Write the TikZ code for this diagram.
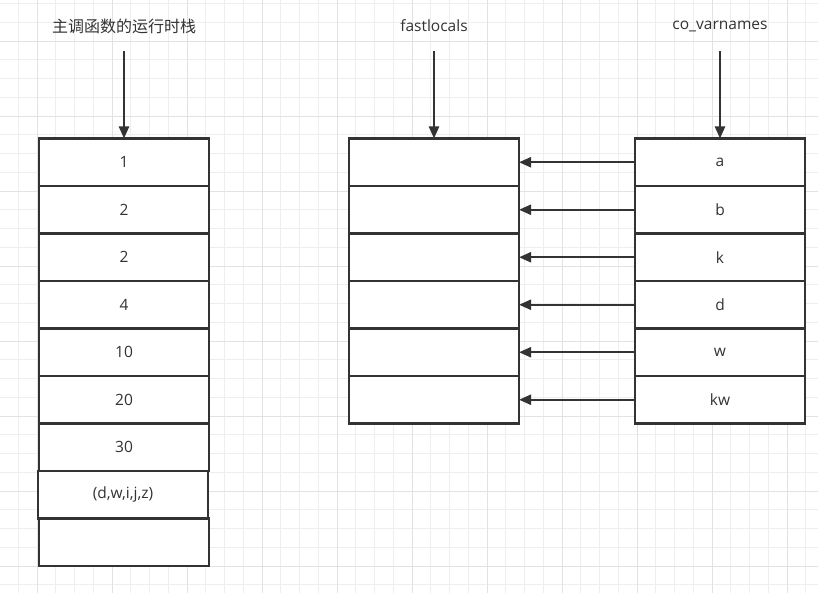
\documentclass[tikz,border=0pt]{standalone}
\usepackage{fontspec}
\setmainfont{Open Sans}
\newfontfamily\cjkfont{Noto Sans CJK SC}
\usetikzlibrary{arrows.meta}
\definecolor{ink}{HTML}{333333}
\definecolor{gridminor}{HTML}{EEEEEE}
\definecolor{gridmajor}{HTML}{E2E2E2}
\begin{document}
\begin{tikzpicture}[x=1pt,y=-1pt,
  cell/.style={draw=ink,line width=2.2pt,fill=white,minimum width=170pt,minimum height=47.5pt,
    inner sep=0pt,outer sep=0pt,anchor=north west,text=ink,font=\fontsize{15.5}{17}\selectfont},
  title/.style={text=ink,font=\fontsize{15.5}{17}\selectfont,inner sep=1pt},
  link/.style={draw=ink,line width=2.2pt,-{Triangle[length=12pt,width=10pt]}}]
\useasboundingbox (0,0) rectangle (818,593);
\fill[white] (0,0) rectangle (818,593);
% background grid
\foreach \i in {0,...,44} {
  \draw[gridminor,line width=0.8pt] ({-0.5+18.75*\i},0) -- ({-0.5+18.75*\i},593);
}
\foreach \i in {0,...,32} {
  \draw[gridminor,line width=0.8pt] (0,{3.5+18.75*\i}) -- (818,{3.5+18.75*\i});
}
\foreach \i in {0,...,11} {
  \draw[gridmajor,line width=0.8pt] ({37+75*\i},0) -- ({37+75*\i},593);
}
\foreach \i in {0,...,8} {
  \draw[gridmajor,line width=0.8pt] (0,{41+75*\i}) -- (818,{41+75*\i});
}
% runtime stack of the caller
\node[cell] (s1) at (39,138.5) {1};
\node[cell] (s2) at (39,186) {2};
\node[cell] (s3) at (39,233.5) {2};
\node[cell] (s4) at (39,281) {4};
\node[cell] (s5) at (39,328.5) {10};
\node[cell] (s6) at (39,376) {20};
\node[cell] (s7) at (39,423.5) {30};
\node[cell] (s8) at (38,471) {(d,w,i,j,z)};
\node[cell] (s9) at (39,518.5) {};
% fastlocals
\foreach \k/\yy in {1/138.5,2/186,3/233.5,4/281,5/328.5,6/376} {
  \node[cell] (f\k) at (349,\yy) {};
}
% co_varnames
\node[cell] (v1) at (635,138.5) {a};
\node[cell] (v2) at (635,186) {b};
\node[cell] (v3) at (635,233.5) {k};
\node[cell] (v4) at (635,281) {d};
\node[cell] (v5) at (635,328.5) {w};
\node[cell] (v6) at (635,376) {kw};
% titles
\node[title,font=\cjkfont\fontsize{16}{18}\selectfont] (t1) at (124,26) {主调函数的运行时栈};
\node[title] (t2) at (434,26) {fastlocals};
\node[title] (t3) at (720,26) {co\_varnames};
\coordinate (a1) at (124,51);
\coordinate (a2) at (434,51);
\coordinate (a3) at (720,51);
\draw[link] (a1) -- (s1.north);
\draw[link] (a2) -- (f1.north);
\draw[link] (a3) -- (v1.north);
\foreach \k in {1,...,6} {
  \draw[link] (v\k.west) -- (f\k.east);
}
\end{tikzpicture}
\end{document}
